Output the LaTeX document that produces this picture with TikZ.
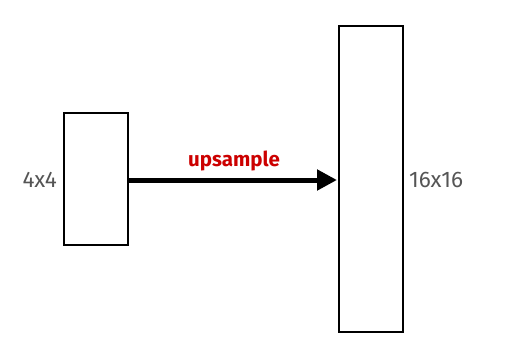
\documentclass[tikz,border=0pt]{standalone}
\usepackage{fontspec}
\setmainfont{Fira Sans}
\usetikzlibrary{arrows.meta}
\definecolor{lbl}{RGB}{85,85,85}
\definecolor{upred}{RGB}{204,0,0}
\begin{document}
\begin{tikzpicture}[x=1pt,y=-1pt,
  layer/.style={draw=black,line width=2pt,fill=white,inner sep=0pt,minimum width=64pt},
  dimlbl/.style={text=lbl,font=\fontsize{22.5}{26}\selectfont,inner sep=0pt},
  arrlbl/.style={text=upred,font=\bfseries\fontsize{20.5}{24}\selectfont,inner sep=0pt}]
\useasboundingbox (0,0) rectangle (526,351);
\node[layer,minimum height=132pt] (small) at (96,179) {};
\node[layer,minimum height=306pt] (big) at (371,179) {};
\node[dimlbl,anchor=east] (l4) at (57,180) {4x4};
\node[dimlbl,anchor=west] (l16) at (409,180) {16x16};
\coordinate (tip) at ([xshift=-1pt]big.west |- 0,180);
\draw[line width=5pt,-{Triangle[length=20pt,width=20pt]}] (small.east |- 0,180) -- (tip);
\node[arrlbl] (up) at (234,161) {upsample};
\end{tikzpicture}
\end{document}
